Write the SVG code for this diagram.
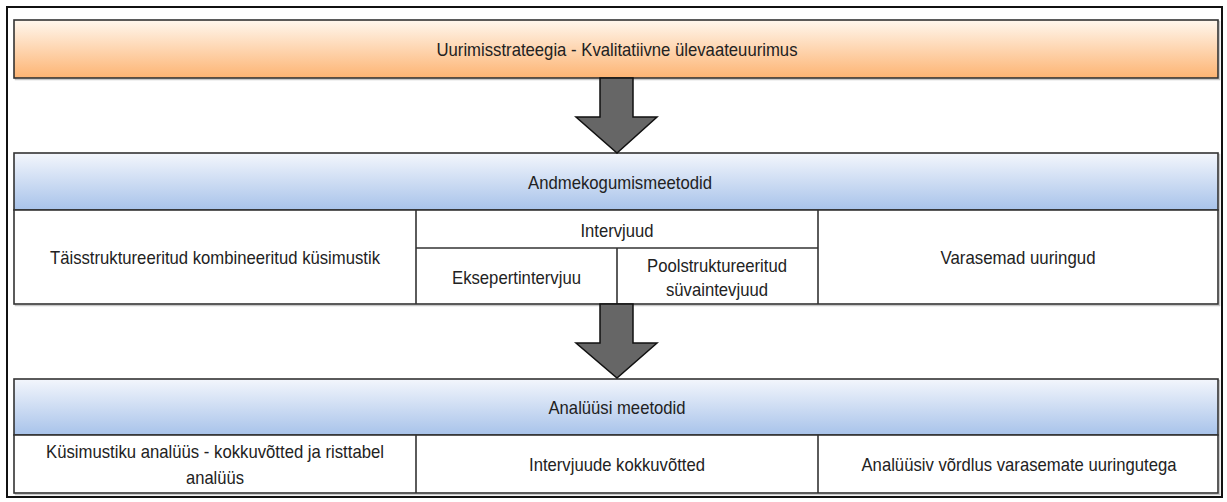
<svg xmlns="http://www.w3.org/2000/svg" width="1227" height="502" viewBox="0 0 1227 502">
<defs>
<linearGradient id="gOrange" x1="0" y1="0" x2="0" y2="1">
<stop offset="0" stop-color="#FFF7EE"/>
<stop offset="1" stop-color="#FDB473"/>
</linearGradient>
<linearGradient id="gBlue" x1="0" y1="0" x2="0" y2="1">
<stop offset="0" stop-color="#F3F6FC"/>
<stop offset="1" stop-color="#A8C3EA"/>
</linearGradient>
</defs>
<style>
.box{stroke:#333;stroke-width:1.6;}
.ln{stroke:#333;stroke-width:1.6;fill:none;}
.sh{fill:none;stroke:#C8C8C8;stroke-width:1.5;}
.t{font-family:"Liberation Sans",Arial,sans-serif;font-size:19px;fill:#222;text-anchor:middle;}
.arrow{fill:#666;stroke:#111;stroke-width:1.5;stroke-linejoin:miter;}
</style>
<rect x="0" y="0" width="1227" height="502" fill="#fff"/>
<rect x="7" y="7" width="1215" height="490" fill="#fff" stroke="#111" stroke-width="2"/>

<g id="strategy">
<rect class="sh" x="15.5" y="21.5" width="1204" height="58"/>
<rect class="box" x="14" y="20" width="1204" height="58" fill="url(#gOrange)"/>
<text class="t" x="617" y="56" textLength="361" lengthAdjust="spacingAndGlyphs">Uurimisstrateegia - Kvalitatiivne ülevaateuurimus</text>
</g>

<g id="data-collection">
<rect class="sh" x="15.5" y="154.5" width="1204" height="151"/>
<rect class="box" x="14" y="153" width="1204" height="57" fill="url(#gBlue)"/>
<rect class="box" x="14" y="210" width="1204" height="94" fill="#fff"/>
<line class="ln" x1="416" y1="210" x2="416" y2="304"/>
<line class="ln" x1="818" y1="210" x2="818" y2="304"/>
<line class="ln" x1="416" y1="248" x2="818" y2="248"/>
<line class="ln" x1="617" y1="248" x2="617" y2="304"/>
<text class="t" x="620" y="189" textLength="184" lengthAdjust="spacingAndGlyphs">Andmekogumismeetodid</text>
<text class="t" x="215" y="264" textLength="330" lengthAdjust="spacingAndGlyphs">Täisstruktureeritud kombineeritud küsimustik</text>
<text class="t" x="617" y="237" textLength="73" lengthAdjust="spacingAndGlyphs">Intervjuud</text>
<text class="t" x="516.5" y="284" textLength="129" lengthAdjust="spacingAndGlyphs">Eksepertintervjuu</text>
<text class="t" x="717" y="272" textLength="140" lengthAdjust="spacingAndGlyphs">Poolstruktureeritud</text>
<text class="t" x="717" y="296" textLength="102" lengthAdjust="spacingAndGlyphs">süvaintevjuud</text>
<text class="t" x="1018" y="264" textLength="155" lengthAdjust="spacingAndGlyphs">Varasemad uuringud</text>
</g>

<g id="analysis">
<rect class="sh" x="15.5" y="380.5" width="1204" height="114"/>
<rect class="box" x="14" y="379" width="1204" height="56" fill="url(#gBlue)"/>
<rect class="box" x="14" y="435" width="1204" height="58" fill="#fff"/>
<line class="ln" x1="416" y1="435" x2="416" y2="493"/>
<line class="ln" x1="818" y1="435" x2="818" y2="493"/>
<text class="t" x="617" y="414" textLength="137" lengthAdjust="spacingAndGlyphs">Analüüsi meetodid</text>
<text class="t" x="215" y="458" textLength="338" lengthAdjust="spacingAndGlyphs">Küsimustiku analüüs - kokkuvõtted ja risttabel</text>
<text class="t" x="215" y="484" textLength="58" lengthAdjust="spacingAndGlyphs">analüüs</text>
<text class="t" x="617" y="471" textLength="176" lengthAdjust="spacingAndGlyphs">Intervjuude kokkuvõtted</text>
<text class="t" x="1019" y="471" textLength="315" lengthAdjust="spacingAndGlyphs">Analüüsiv võrdlus varasemate uuringutega</text>
</g>

<g id="connectors">
<polygon class="arrow" points="600,78 633,78 633,117 657,117 617,153 576,117 600,117"/>
<polygon class="arrow" points="600,304 633,304 633,343 657,343 617,378 576,343 600,343"/>
</g>
</svg>
